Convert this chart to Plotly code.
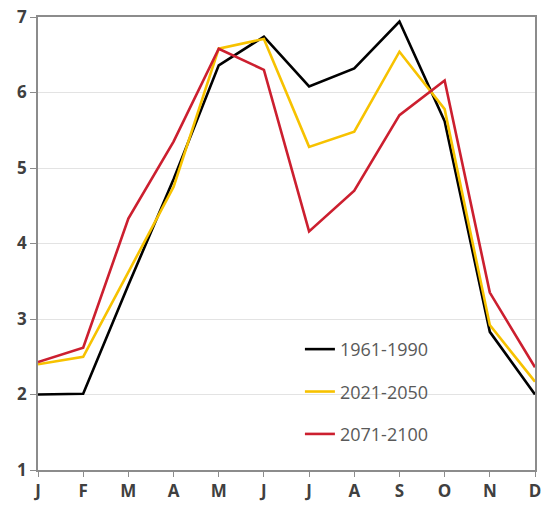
import plotly.graph_objects as go

months = ["J", "F", "M", "A", "M", "J", "J", "A", "S", "O", "N", "D"]
series_names = ["1961-1990", "2021-2050", "2071-2100"]
v_1961_1990 = [2.00, 2.01, 3.45, 4.85, 6.36, 6.74, 6.08, 6.32, 6.94, 5.62, 2.83, 2.00]
v_2021_2050 = [2.40, 2.50, 3.62, 4.75, 6.58, 6.71, 5.28, 5.48, 6.54, 5.78, 2.92, 2.17]
v_2071_2100 = [2.43, 2.62, 4.33, 5.35, 6.58, 6.30, 4.16, 4.70, 5.70, 6.16, 3.35, 2.36]
y_ticks = [1, 2, 3, 4, 5, 6, 7]

colors = ["#000000", "#F7C200", "#CC1F2F"]
values = [v_1961_1990, v_2021_2050, v_2071_2100]
xs = list(range(len(months)))

fig = go.Figure()
for name, vals, col in zip(series_names, values, colors):
    fig.add_trace(go.Scatter(
        x=xs, y=vals, name=name, mode="lines", legendgroup=name,
        line=dict(color=col, width=2.6),
    ))

fig.update_layout(
    width=544, height=510,
    margin=dict(l=38, r=9, t=17, b=40),
    paper_bgcolor="white", plot_bgcolor="white",
    showlegend=True,
    legend=dict(
        x=0.527, y=0.307, xanchor="left", yanchor="top",
        bgcolor="rgba(0,0,0,0)", tracegroupgap=16,
        font=dict(family="Open Sans", size=18, color="#595959"),
    ),
    font=dict(family="Open Sans"),
)
fig.update_xaxes(
    range=[0, 11], tickmode="array", tickvals=xs, ticktext=months,
    showgrid=False, showline=True, linecolor="#8C8C8C", linewidth=1.5, mirror=True,
    ticks="outside", ticklen=5, tickcolor="#8C8C8C",
    tickfont=dict(family="Open Sans", size=17, color="#404040", weight="bold"),
    zeroline=False, automargin=False,
)
fig.update_yaxes(
    range=[1, 7], tickmode="array", tickvals=y_ticks,
    showgrid=True, gridcolor="#E3E3E3", gridwidth=1,
    showline=True, linecolor="#8C8C8C", linewidth=1.5, mirror=True,
    ticks="outside", ticklen=6, tickcolor="#8C8C8C",
    tickfont=dict(family="Open Sans", size=17, color="#404040", weight="bold"),
    zeroline=False, automargin=False,
)
fig.write_html(
    "out.html",
    config={"displayModeBar": False},
    post_script="document.body.style.margin='0';document.body.style.overflow='hidden';",
)
